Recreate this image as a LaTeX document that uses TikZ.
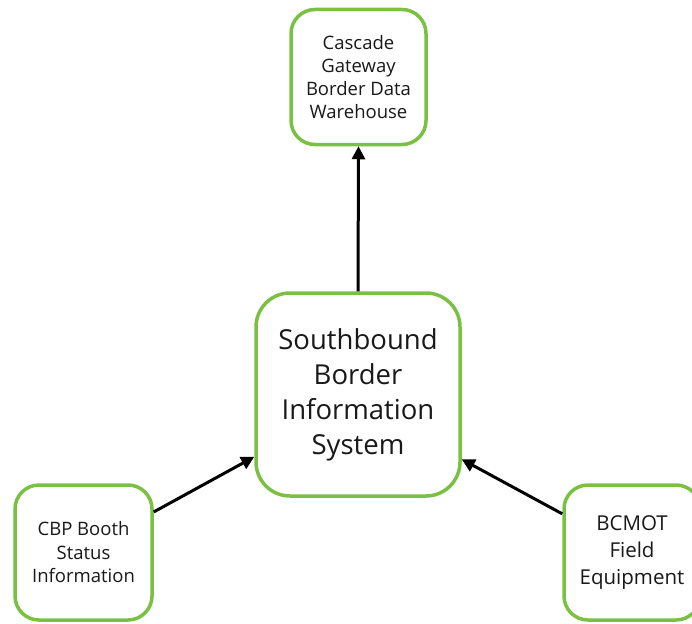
\documentclass[tikz,border=0pt]{standalone}
\usepackage{fontspec}
\setmainfont{Open Sans}
\usetikzlibrary{arrows.meta}
\definecolor{boxgreen}{HTML}{7AC143}
\tikzset{
  gbox/.style={draw=boxgreen, line width=3.5pt, rounded corners=24pt, fill=white,
    inner sep=0pt, align=center, text=black!90},
  conn/.style={line width=3pt, -{Triangle[length=13pt,width=13pt]}}
}
\begin{document}
\begin{tikzpicture}[x=1pt,y=-1pt]
\useasboundingbox (0,0) rectangle (692,623);
\clip (0,0) rectangle (692,623);
\node[gbox, minimum width=135pt, minimum height=135pt, font=\fontsize{18.5}{23}\selectfont] (cgbdw) at (358.5,77) {Cascade\\Gateway\\Border Data\\Warehouse};
\node[gbox, rounded corners=34pt, minimum width=204pt, minimum height=203pt, font=\fontsize{27.5}{35}\selectfont] (sbis) at (358,394.5) {Southbound\\Border\\Information\\System};
\node[gbox, minimum width=137pt, minimum height=135pt, font=\fontsize{18.5}{23.5}\selectfont] (cbp) at (83.5,552.5) {CBP Booth\\Status\\Information};
\node[gbox, minimum width=136pt, minimum height=135pt, font=\fontsize{20.5}{27}\selectfont] (bcmot) at (632,552.5) {BCMOT\\Field\\Equipment};
\draw[conn] (sbis.north) -- (cgbdw.south);
\draw[conn] (cbp.30) -- (sbis.211);
\draw[conn] (bcmot.151) -- (sbis.328.6);
\end{tikzpicture}
\end{document}
